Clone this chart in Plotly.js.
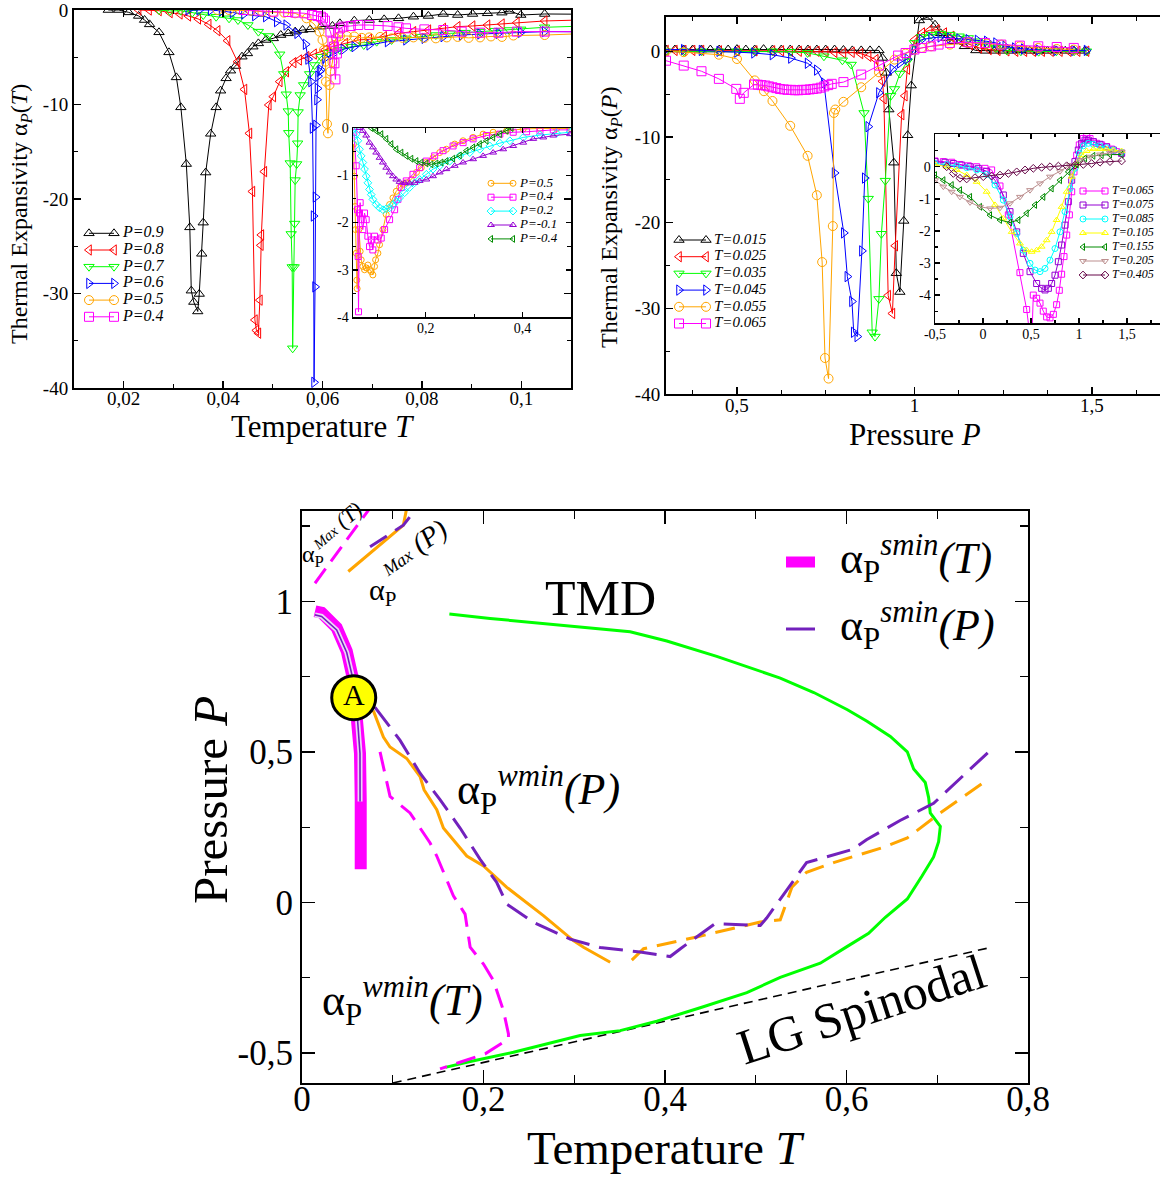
<!DOCTYPE html>
<html>
<head>
<meta charset="utf-8">
<script src="https://cdn.plot.ly/plotly-3.0.1.min.js"></script>
<style>
html,body{margin:0;padding:0;background:#fff;}
#chart{width:1160px;height:1178px;}
</style>
</head>
<body>
<div id="chart"></div>
<script>
// ---------- Panel (a): thermal expansivity vs temperature at fixed P ----------
const p1_T09 = [0.0169,0.0190,0.0210,0.0230,0.0242,0.0252,0.0271,0.0291,0.0306,0.0315,0.0326,0.0333,0.0336,0.0341,0.0349,0.0352,0.0357,0.0360,0.0365,0.0375,0.0386,0.0395,0.0406,0.0415,0.0425,0.0438,0.0449,0.0460,0.0471,0.0486,0.0501,0.0516,0.0531,0.0545,0.0560,0.0575,0.0597,0.0620,0.0635,0.0664,0.0694,0.0724,0.0753,0.0783,0.0813,0.0843,0.0872,0.0902,0.0932,0.0961,0.0976,0.0999,0.1047,0.1125];
const p1_A09 = [0,0,-0.25,-0.63,-1.06,-1.52,-2.36,-4.48,-7.13,-10.3,-16.3,-23.0,-29.7,-30.9,-31.9,-30.05,-25.8,-22.5,-17.2,-13.1,-10.3,-8.54,-7.23,-6.42,-5.93,-4.94,-4.59,-3.88,-3.53,-3.17,-3.0,-2.65,-2.47,-2.29,-2.12,-2.05,-1.76,-1.69,-1.41,-1.13,-1.06,-0.99,-0.88,-0.71,-0.63,-0.42,-0.53,-0.42,-0.35,-0.28,-0.1,-0.53,-0.42,-0.45];
const p1_T08 = [0.0230,0.0251,0.0271,0.0293,0.0313,0.0330,0.0350,0.0371,0.0389,0.0409,0.0429,0.0443,0.0453,0.0459,0.0464,0.0467,0.0471,0.0474,0.0476,0.0477,0.0483,0.0492,0.0501,0.0514,0.0527,0.0542,0.0553,0.0568,0.0583,0.0605,0.0620,0.0646,0.0672,0.0694,0.0724,0.0753,0.0783,0.0813,0.0843,0.0872,0.0902,0.0932,0.0961,0.0991,0.1047,0.1125];
const p1_A08 = [0,0,-0.07,-0.28,-0.42,-0.63,-0.95,-1.52,-2.19,-3.25,-5.47,-8.4,-13.05,-19.2,-32.8,-33.9,-34.2,-30.7,-24.9,-23.8,-17.1,-10.05,-9.17,-7.58,-6.53,-5.57,-5.29,-4.94,-4.66,-4.23,-3.88,-3.53,-3.17,-3.1,-2.82,-2.47,-2.29,-2.12,-1.94,-1.76,-1.69,-1.59,-1.48,-1.34,-1.16,-1.05];
const p1_T07 = [0.0271,0.0293,0.0315,0.0338,0.0360,0.0386,0.0412,0.0430,0.0450,0.0471,0.0491,0.0514,0.0522,0.0527,0.0531,0.0532,0.0535,0.0537,0.0539,0.0540,0.0543,0.0544,0.0545,0.0548,0.0550,0.0551,0.0555,0.0562,0.0574,0.0584,0.0597,0.0612,0.0635,0.0657,0.0683,0.0709,0.0739,0.0768,0.0798,0.0828,0.0857,0.0887,0.0917,0.0947,0.0976,0.0999,0.1047,0.1125];
const p1_A07 = [0,-0.1,-0.07,-0.28,-0.53,-0.71,-0.88,-1.06,-1.59,-2.29,-2.75,-4.69,-6.77,-8.92,-10.7,-13.0,-16.2,-23.7,-27.2,-35.8,-27.2,-22.6,-18.0,-16.3,-14.1,-10.8,-9.0,-7.94,-6.77,-5.82,-4.94,-4.51,-4.23,-3.88,-3.7,-3.35,-3.17,-3.0,-2.82,-2.65,-2.47,-2.4,-2.29,-2.19,-2.12,-2.05,-1.83,-1.7];
const p1_T06 = [0.0330,0.0352,0.0375,0.0397,0.0419,0.0442,0.0464,0.0486,0.0508,0.0527,0.0549,0.0566,0.0571,0.0577,0.0580,0.0582,0.0583,0.0585,0.0586,0.0587,0.0589,0.0590,0.0591,0.0594,0.0597,0.0605,0.0620,0.0642,0.0664,0.0694,0.0731,0.0768,0.0805,0.0843,0.0880,0.0917,0.0954,0.0999,0.1047,0.1125];
const p1_A06 = [0,0,0,-0.1,-0.28,-0.42,-0.6,-0.71,-1.23,-1.59,-2.47,-3.63,-5.2,-7.58,-12.5,-21.8,-39.4,-29.3,-19.8,-12.2,-9.5,-8.3,-7.0,-6.5,-6.35,-5.1,-4.7,-4.16,-3.88,-3.7,-3.35,-3.17,-3.0,-2.82,-2.65,-2.54,-2.47,-2.36,-2.29,-2.3];
const p1_T05 = [0.0389,0.0412,0.0434,0.0456,0.0479,0.0501,0.0523,0.0545,0.0568,0.0583,0.0594,0.0600,0.0603,0.0606,0.0607,0.0609,0.0611,0.0614,0.0616,0.0620,0.0623,0.0627,0.0635,0.0649,0.0664,0.0679,0.0694,0.0716,0.0739,0.0761,0.0783,0.0805,0.0828,0.0850,0.0872,0.0894,0.0917,0.0939,0.0961,0.0984,0.1047,0.1125];
const p1_A05 = [0,0,0,-0.07,-0.18,-0.25,-0.28,-0.35,-0.88,-1.48,-2.29,-3.17,-4.23,-5.47,-7.58,-12.06,-13.05,-7.94,-6.5,-5.5,-3.7,-3.0,-2.75,-2.75,-2.8,-2.95,-2.9,-2.85,-3.0,-2.95,-2.9,-2.95,-3.0,-2.9,-2.85,-2.95,-2.9,-2.8,-2.85,-2.7,-2.65,-2.5];
const p1_T04 = [0.0442,0.0471,0.0501,0.0531,0.0545,0.0564,0.0579,0.0590,0.0597,0.0601,0.0605,0.0616,0.0620,0.0623,0.0624,0.0626,0.0629,0.0631,0.0635,0.0642,0.0657,0.0672,0.0694,0.0731,0.0753,0.0768,0.0805,0.0843,0.0880,0.0917,0.0954,0.0991,0.1047,0.1125];
const p1_A04 = [0,-0.07,-0.18,-0.21,-0.28,-0.35,-0.53,-0.63,-0.71,-0.88,-1.13,-2.29,-3.35,-3.88,-5.64,-7.34,-4.6,-2.47,-1.94,-1.76,-1.69,-1.59,-1.59,-1.69,-1.83,-1.94,-2.05,-2.12,-2.29,-2.4,-2.4,-2.29,-2.29,-2.3];
const p1_names = ['P=0.9','P=0.8','P=0.7','P=0.6','P=0.5','P=0.4'];

// Inset of panel (a): wider temperature range
const i1_T05 = [0.0510,0.0531,0.0545,0.0552,0.0566,0.0579,0.0586,0.0621,0.0648,0.0669,0.0703,0.0738,0.0772,0.0807,0.0841,0.0876,0.0910,0.0945,0.0966,0.1014,0.1048,0.1117,0.1186,0.1255,0.1324,0.1393,0.1462,0.1531,0.1600,0.1703,0.1810,0.1910,0.2014,0.2152,0.2290,0.2428,0.2600,0.2772,0.2979,0.3186,0.3393,0.3669,0.4014,0.4359,0.4703,0.4980];
const i1_A05 = [-0.34,-1.02,-1.66,-2.15,-2.65,-3.22,-3.40,-2.15,-2.61,-2.79,-2.93,-3.00,-2.96,-2.90,-3.00,-3.04,-3.11,-2.93,-2.79,-2.65,-2.47,-2.15,-1.83,-1.62,-1.48,-1.34,-1.26,-1.19,-1.16,-1.09,-0.94,-0.84,-0.73,-0.63,-0.52,-0.45,-0.34,-0.27,-0.20,-0.13,-0.09,-0.06,-0.02,-0.01,-0.01,-0.01];
const i1_T04 = [0.0517,0.0566,0.0593,0.0607,0.0614,0.0634,0.0648,0.0669,0.0703,0.0738,0.0772,0.0807,0.0841,0.0876,0.0910,0.0945,0.1014,0.1083,0.1152,0.1255,0.1359,0.1428,0.1497,0.1600,0.1738,0.1876,0.2014,0.2186,0.2359,0.2566,0.2772,0.2979,0.3255,0.3531,0.3807,0.4083,0.4359,0.4634,0.4980];
const i1_A04 = [-0.09,-0.8,-1.73,-2.72,-3.89,-1.8,-1.58,-1.94,-2.15,-1.8,-1.94,-2.29,-2.51,-2.37,-2.58,-2.29,-2.37,-2.33,-2.15,-1.94,-1.73,-1.51,-1.26,-1.12,-0.98,-0.84,-0.7,-0.59,-0.48,-0.38,-0.31,-0.23,-0.16,-0.13,-0.09,-0.08,-0.06,-0.04,-0.04];
const i1_T02 = [0.0531,0.0566,0.0600,0.0634,0.0669,0.0703,0.0738,0.0772,0.0807,0.0841,0.0876,0.0910,0.0979,0.1048,0.1117,0.1186,0.1255,0.1324,0.1393,0.1462,0.1566,0.1669,0.1772,0.1876,0.2014,0.2152,0.2290,0.2497,0.2703,0.2910,0.3117,0.3324,0.3531,0.3738,0.4014,0.4359,0.4703,0.4980];
const i1_A02 = [0,-0.13,-0.27,-0.45,-0.59,-0.73,-0.87,-1.02,-1.16,-1.3,-1.41,-1.51,-1.62,-1.69,-1.73,-1.71,-1.69,-1.62,-1.55,-1.48,-1.37,-1.26,-1.16,-1.09,-0.98,-0.87,-0.8,-0.7,-0.59,-0.52,-0.45,-0.38,-0.32,-0.27,-0.2,-0.15,-0.11,-0.09];
const i1_Tm01 = [0.0634,0.0703,0.0772,0.0841,0.0910,0.0979,0.1048,0.1117,0.1186,0.1255,0.1324,0.1393,0.1462,0.1566,0.1669,0.1772,0.1876,0.2014,0.2152,0.2290,0.2428,0.2600,0.2772,0.2979,0.3186,0.3393,0.3600,0.3807,0.4014,0.4221,0.4428,0.4634,0.4980];
const i1_Am01 = [0,-0.06,-0.16,-0.31,-0.41,-0.52,-0.63,-0.73,-0.84,-0.94,-1.02,-1.09,-1.14,-1.16,-1.17,-1.16,-1.12,-1.09,-1.02,-0.94,-0.87,-0.8,-0.73,-0.66,-0.59,-0.52,-0.45,-0.38,-0.31,-0.23,-0.2,-0.16,-0.13];
const i1_Tm04 = [0.0876,0.0979,0.1083,0.1186,0.1290,0.1393,0.1497,0.1600,0.1703,0.1807,0.1910,0.2014,0.2117,0.2221,0.2324,0.2428,0.2566,0.2703,0.2841,0.2979,0.3117,0.3255,0.3393,0.3531,0.3669,0.3772];
const i1_Am04 = [0,-0.06,-0.13,-0.23,-0.34,-0.45,-0.52,-0.59,-0.65,-0.7,-0.73,-0.75,-0.77,-0.75,-0.73,-0.7,-0.65,-0.58,-0.48,-0.41,-0.34,-0.27,-0.2,-0.13,-0.06,0];
const i1_names = ['P=0.5','P=0.4','P=0.2','P=-0.1','P=-0.4'];

// ---------- Panel (b): thermal expansivity vs pressure at fixed T ----------
const p2_P015 = [0.300,0.325,0.350,0.375,0.400,0.425,0.450,0.475,0.500,0.525,0.550,0.575,0.600,0.625,0.650,0.675,0.700,0.725,0.750,0.775,0.800,0.825,0.850,0.875,0.900,0.910,0.921,0.928,0.942,0.949,0.959,0.970,0.981,0.991,1.014,1.037,1.058,1.074,1.089,1.110,1.141,1.173,1.200,1.225,1.250,1.275,1.300,1.325,1.350,1.375,1.400,1.425,1.450,1.480];
const p2_A015 = [0.2,0.2,0.2,0.2,0.2,0.2,0.2,0.2,0.25,0.2,0.2,0.25,0.2,0.2,0.2,0.2,0.2,0.2,0.2,0.2,0.15,0.1,0.1,0.1,0.1,-0.78,-2.52,-6.8,-13.0,-25.9,-28.1,-19.8,-9.8,-4.0,3.6,4.0,3.1,2.1,1.55,1.17,0.58,0.1,0.05,0.05,0.05,0.05,0.1,0.05,0.05,0.05,0.1,0.05,0.05,0.05];
const p2_P025 = [0.300,0.325,0.350,0.375,0.400,0.450,0.500,0.550,0.600,0.625,0.650,0.675,0.700,0.725,0.750,0.775,0.800,0.824,0.848,0.871,0.891,0.910,0.914,0.926,0.938,0.946,0.964,0.973,0.980,1.001,1.022,1.043,1.063,1.084,1.105,1.131,1.157,1.183,1.210,1.235,1.260,1.285,1.310,1.335,1.360,1.385,1.410,1.435,1.460,1.485];
const p2_A025 = [0.1,0.1,0.1,0.1,0.1,0.05,0.05,0.05,0.05,0.05,0,0,0,0,-0.05,-0.12,-0.2,-0.12,-0.27,-0.58,-0.97,-3.5,-5.55,-28.5,-30.6,-22.7,-7.4,-5.2,-2.1,1.36,2.14,2.45,2.52,2.14,1.75,1.17,0.78,0.39,0.2,0.1,0.05,0,0,0,0,0,0,0,0,0];
const p2_P035 = [0.300,0.350,0.400,0.450,0.500,0.550,0.600,0.650,0.699,0.745,0.797,0.822,0.858,0.870,0.881,0.889,0.900,0.907,0.918,0.933,0.944,0.959,0.980,1.000,1.020,1.047,1.073,1.100,1.126,1.152,1.178,1.204,1.230,1.260,1.300,1.350,1.400,1.450,1.485];
const p2_A035 = [0,0,0,0,0,0,0,-0.05,-0.19,-0.58,-1.05,-1.55,-7.2,-17.2,-32.8,-33.3,-28.9,-21.3,-15.1,-5.2,-4.4,-2.6,-1.17,0.97,1.67,1.94,2.06,1.94,1.75,1.55,1.17,0.78,0.39,0.1,0,-0.05,0,0,0];
const p2_P045 = [0.300,0.350,0.400,0.450,0.500,0.548,0.600,0.652,0.699,0.725,0.745,0.775,0.801,0.811,0.824,0.829,0.839,0.852,0.860,0.870,0.900,0.938,0.959,0.980,1.000,1.020,1.047,1.073,1.100,1.126,1.152,1.178,1.204,1.230,1.256,1.283,1.308,1.350,1.400,1.450,1.485];
const p2_A045 = [0.2,0.2,0.1,0,-0.1,-0.2,-0.4,-0.8,-1.4,-2.2,-3.7,-14.2,-21.2,-26.3,-29.2,-32.8,-33.3,-23.3,-14.8,-8.8,-4.85,-2.1,-1.36,-0.9,0.2,1.36,1.55,1.67,1.55,1.44,1.36,1.28,1.17,0.97,0.58,0.39,0.27,0.15,0.1,0.1,0.1];
const p2_P055 = [0.300,0.350,0.449,0.500,0.550,0.576,0.600,0.650,0.699,0.725,0.740,0.748,0.758,0.770,0.773,0.777,0.800,0.850,0.900,0.944,0.975,1.000,1.020,1.047,1.100,1.152,1.204,1.245,1.297,1.349,1.401,1.449];
const p2_A055 = [0,-0.1,-0.4,-0.9,-3.4,-4.66,-5.8,-8.7,-12.2,-16.8,-24.6,-35.8,-38.2,-20.4,-7.2,-6.8,-5.9,-4.2,-2.45,-0.97,-0.27,0.2,0.39,0.58,0.78,0.97,0.89,0.78,0.58,0.39,0.27,0.2];
const p2_P065 = [0.300,0.350,0.400,0.449,0.498,0.508,0.519,0.548,0.559,0.569,0.580,0.590,0.600,0.611,0.621,0.632,0.642,0.653,0.663,0.673,0.684,0.694,0.705,0.715,0.725,0.736,0.746,0.757,0.767,0.800,0.850,0.900,0.954,0.975,1.000,1.020,1.047,1.068,1.100,1.152,1.199,1.245,1.297,1.349,1.401,1.449];
const p2_A065 = [-1.1,-1.67,-2.33,-3.22,-4.39,-5.55,-4.85,-3.88,-3.9,-3.95,-4.0,-4.1,-4.2,-4.3,-4.4,-4.45,-4.5,-4.5,-4.55,-4.55,-4.5,-4.5,-4.45,-4.4,-4.35,-4.25,-4.1,-3.95,-3.8,-3.6,-2.72,-1.67,-0.5,-0.2,0.2,0.39,0.58,0.78,0.97,1.05,0.97,0.78,0.66,0.58,0.5,0.39];
const p2_names = ['T=0.015','T=0.025','T=0.035','T=0.045','T=0.055','T=0.065'];

// Inset of panel (b): wider pressure range
const i2_P065 = [-0.5,-0.413,-0.326,-0.24,-0.153,-0.066,0.021,0.09,0.177,0.264,0.385,0.455,0.49,0.51,0.524,0.559,0.594,0.628,0.663,0.698,0.733,0.767,0.795,0.819,0.844,0.872,0.9,0.924,0.948,0.976,1.003,1.045,1.08,1.115,1.149,1.184,1.236,1.288,1.34,1.392,1.444];
const i2_A065 = [0.18,0.16,0.14,0.07,0.03,0,-0.05,-0.1,-0.6,-1.5,-3.3,-4.45,-5.3,-5.3,-4.0,-4.1,-4.25,-4.5,-4.68,-4.71,-4.6,-4.3,-3.85,-3.35,-2.8,-2.13,-1.5,-0.78,-0.16,0.36,0.68,0.88,0.94,0.88,0.78,0.73,0.68,0.62,0.55,0.47,0.42];
const i2_P075 = [-0.5,-0.396,-0.309,-0.222,-0.135,-0.049,0.038,0.125,0.212,0.281,0.351,0.42,0.49,0.559,0.611,0.646,0.681,0.715,0.75,0.785,0.819,0.854,0.889,0.924,0.958,0.993,1.028,1.063,1.097,1.149,1.219,1.288,1.358,1.444];
const i2_A075 = [0.16,0.14,0.1,0.05,0,-0.05,-0.14,-0.42,-0.88,-1.4,-2.03,-2.7,-3.27,-3.64,-3.79,-3.84,-3.79,-3.64,-3.38,-2.96,-2.44,-1.82,-1.09,-0.42,0.16,0.52,0.73,0.83,0.83,0.78,0.7,0.62,0.52,0.42];
const i2_P085 = [-0.5,-0.378,-0.274,-0.17,-0.066,0.038,0.125,0.212,0.281,0.351,0.42,0.49,0.542,0.594,0.646,0.698,0.75,0.802,0.854,0.906,0.958,1.003,1.045,1.097,1.149,1.219,1.288,1.358,1.444];
const i2_A085 = [0.1,0.07,0.03,-0.03,-0.1,-0.24,-0.57,-1.04,-1.56,-2.08,-2.6,-3.01,-3.22,-3.27,-3.17,-2.91,-2.55,-2.03,-1.4,-0.68,-0.05,0.42,0.65,0.73,0.7,0.65,0.59,0.52,0.45];
const i2_P105 = [-0.5,-0.378,-0.274,-0.17,-0.066,0.038,0.125,0.212,0.299,0.385,0.455,0.507,0.559,0.611,0.663,0.715,0.767,0.819,0.872,0.924,0.976,1.028,1.08,1.149,1.219,1.288,1.358,1.444];
const i2_A105 = [0.07,0,-0.1,-0.26,-0.47,-0.78,-1.19,-1.61,-2.03,-2.39,-2.6,-2.65,-2.6,-2.49,-2.29,-2.03,-1.66,-1.25,-0.78,-0.31,0.1,0.36,0.49,0.55,0.55,0.55,0.52,0.49];
const i2_P155 = [-0.5,-0.413,-0.326,-0.24,-0.135,-0.031,0.073,0.177,0.281,0.368,0.455,0.542,0.628,0.715,0.802,0.889,0.976,1.063,1.149,1.236,1.323,1.444];
const i2_A155 = [-0.26,-0.42,-0.57,-0.73,-0.94,-1.25,-1.51,-1.66,-1.74,-1.66,-1.45,-1.19,-0.94,-0.68,-0.42,-0.16,0.07,0.26,0.34,0.36,0.38,0.38];
const i2_P205 = [-0.5,-0.413,-0.326,-0.24,-0.135,-0.031,0.073,0.177,0.281,0.385,0.49,0.594,0.698,0.802,0.906,1.01,1.115,1.219,1.323,1.444];
const i2_A205 = [-0.42,-0.62,-0.78,-0.94,-1.11,-1.25,-1.3,-1.28,-1.14,-0.94,-0.73,-0.52,-0.31,-0.14,0.05,0.21,0.31,0.38,0.44,0.47];
const i2_P405 = [-0.378,-0.309,-0.24,-0.17,-0.083,0.003,0.09,0.177,0.264,0.351,0.438,0.524,0.611,0.698,0.785,0.872,0.958,1.045,1.132,1.219,1.323,1.444];
const i2_A405 = [0,-0.21,-0.36,-0.38,-0.34,-0.31,-0.29,-0.26,-0.21,-0.16,-0.1,-0.05,-0.02,0,0.02,0.03,0.05,0.07,0.1,0.14,0.16,0.18];
const i2_names = ['T=0.065','T=0.075','T=0.085','T=0.105','T=0.155','T=0.205','T=0.405'];

// ---------- Panel (c): phase diagram in the T-P plane ----------
const tmd_T = [0.158,0.1816,0.233,0.3065,0.3506,0.391,0.4388,0.4902,0.527,0.5711,0.6005,0.6244,0.6428,0.667,0.6832,0.696,0.7015,0.7034,0.6923,0.6905,0.6868,0.674,0.667,0.6483,0.6226,0.601,0.564,0.527,0.457,0.402,0.3616,0.2698,0.2073,0.1624];
const tmd_P = [-0.548,-0.531,-0.498,-0.4425,-0.426,-0.395,-0.35,-0.3,-0.249,-0.202,-0.147,-0.103,-0.0495,0.0114,0.0876,0.151,0.2018,0.2526,0.297,0.348,0.398,0.443,0.5,0.551,0.6015,0.64,0.697,0.745,0.817,0.868,0.899,0.925,0.943,0.958];
const spin_T = [0.100,0.200,0.300,0.400,0.500,0.600,0.700,0.757];
const spin_P = [-0.600,-0.532,-0.463,-0.395,-0.327,-0.258,-0.190,-0.151];
const sminT_T = [0.0143,0.0216,0.0382,0.0493,0.0566,0.0610,0.0639,0.0647,0.0647];
const sminT_P = [0.967,0.962,0.912,0.835,0.736,0.615,0.495,0.341,0.110];
const sminP_T = [0.0143,0.0216,0.0382,0.0493,0.0566,0.0610,0.0639,0.0640];
const sminP_P = [0.955,0.950,0.905,0.830,0.736,0.615,0.495,0.335];
const wminPo_T = [0.0786,0.0897,0.0970,0.1154,0.1301,0.1345,0.1485,0.1558,0.1816,0.2000,0.2257,0.2660,0.2990,0.3102,0.3396];
const wminPo_P = [0.637,0.549,0.516,0.478,0.418,0.374,0.308,0.247,0.154,0.121,0.050,-0.044,-0.127,-0.149,-0.199];
const wminPd_T = [0.3634,0.3764,0.4350,0.5050,0.5270,0.5398,0.5560,0.5858,0.6409,0.6670,0.7000,0.7510];
const wminPd_P = [-0.192,-0.154,-0.115,-0.065,-0.058,0.050,0.100,0.132,0.183,0.214,0.290,0.398];
const wminPv_T = [0.0805,0.1081,0.1301,0.1521,0.1742,0.1963,0.2146,0.2257,0.2550,0.2955,0.3285,0.3726,0.4057,0.4170,0.4550,0.5050,0.5120,0.5560,0.6070,0.6220,0.6590,0.6960,0.7567];
const wminPv_P = [0.648,0.538,0.429,0.341,0.247,0.143,0.066,-0.006,-0.066,-0.122,-0.150,-0.165,-0.180,-0.154,-0.071,-0.077,-0.052,0.132,0.176,0.208,0.272,0.329,0.500];
const wminT_T = [0.086,0.097,0.119,0.141,0.1485,0.1668,0.1797,0.1853,0.200,0.211,0.222,0.2275,0.2275,0.2018,0.174,0.1521];
const wminT_P = [0.500,0.352,0.297,0.198,0.154,0.022,-0.039,-0.149,-0.205,-0.260,-0.360,-0.437,-0.454,-0.503,-0.531,-0.553];
const maxPo_T = [0.051,0.1117,0.1154];
const maxPo_P = [1.099,1.253,1.310];
const maxPv_T = [0.075,0.1117,0.1264];
const maxPv_P = [1.181,1.253,1.310];
const maxT_T = [0.0143,0.075];
const maxT_P = [1.060,1.310];
const pointA_T = [0.057];
const pointA_P = [0.680];
const pointA_label = ['A'];

// ---------- tick positions and labels ----------
const p1x_ticks = [0.02,0.04,0.06,0.08,0.1], p1x_text = ['0,02','0,04','0,06','0,08','0,1'], p1x_minor = [0.01,0.03,0.05,0.07,0.09];
const p1y_ticks = [0,-10,-20,-30,-40], p1y_text = ['0','-10','-20','-30','-40'], p1y_minor = [-5,-15,-25,-35];
const i1x_ticks = [0.2,0.4], i1x_text = ['0,2','0,4'], i1x_minor = [0.1,0.3,0.5];
const i1y_ticks = [0,-1,-2,-3,-4], i1y_text = ['0','-1','-2','-3','-4'], i1y_minor = [-0.5,-1.5,-2.5,-3.5];
const p2x_ticks = [0.5,1,1.5], p2x_text = ['0,5','1','1,5'], p2x_minor = [0.375,0.625,0.75,0.875,1.125,1.25,1.375,1.625];
const p2y_ticks = [0,-10,-20,-30,-40], p2y_text = ['0','-10','-20','-30','-40'], p2y_minor = [-5,-15,-25,-35];
const i2x_ticks = [-0.5,0,0.5,1,1.5], i2x_text = ['-0,5','0','0,5','1','1,5'], i2x_minor = [-0.25,0.25,0.75,1.25,1.75];
const i2y_ticks = [0,-1,-2,-3,-4], i2y_text = ['0','-1','-2','-3','-4'], i2y_minor = [0.5,-0.5,-1.5,-2.5,-3.5,-4.5];
const p3x_ticks = [0,0.2,0.4,0.6,0.8], p3x_text = ['0','0,2','0,4','0,6','0,8'], p3x_minor = [0.1,0.3,0.5,0.7];
const p3y_ticks = [-0.5,0,0.5,1], p3y_text = ['-0,5','0','0,5','1'], p3y_minor = [-0.25,0.25,0.75,1.25];

// ---------- helpers ----------
const W = 1160, H = 1178;
const SERIF = 'Liberation Serif, Times New Roman, serif';
const hx = (a, b) => [a / W, b / W];
const hy = (top, bottom) => [1 - bottom / H, 1 - top / H];

const COL = {
  black:'#000000', red:'#ff0000', green:'#00ff00', blue:'#0000ff', orange:'#ffa500',
  magenta:'#ff00ff', cyan:'#00ffff', violet:'#9400d3', green4:'#008b00', yellow:'#ffff00',
  brown:'#bc8f8f', maroon:'#670748', indigo:'#7221bc'
};

function sym(x, y, xa, ya, color, symbol, size) {
  return {x, y, xaxis:xa, yaxis:ya, type:'scatter', mode:'lines+markers',
    line:{color, width:1}, marker:{symbol, size, color, line:{color, width:1}},
    hoverinfo:'skip', showlegend:false};
}
function curve(x, y, color, width, dash) {
  return {x, y, xaxis:'x5', yaxis:'y5', type:'scatter', mode:'lines',
    line:{color, width, dash:dash || 'solid'}, hoverinfo:'skip', showlegend:false};
}

const p1Styles = [
  [p1_T09, p1_A09, COL.black, 'triangle-up-open'],
  [p1_T08, p1_A08, COL.red, 'triangle-left-open'],
  [p1_T07, p1_A07, COL.green, 'triangle-down-open'],
  [p1_T06, p1_A06, COL.blue, 'triangle-right-open'],
  [p1_T05, p1_A05, COL.orange, 'circle-open'],
  [p1_T04, p1_A04, COL.magenta, 'square-open']
];
const i1Styles = [
  [i1_T05, i1_A05, COL.orange, 'circle-open'],
  [i1_T04, i1_A04, COL.magenta, 'square-open'],
  [i1_T02, i1_A02, COL.cyan, 'diamond-open'],
  [i1_Tm01, i1_Am01, COL.violet, 'triangle-up-open'],
  [i1_Tm04, i1_Am04, COL.green4, 'triangle-left-open']
];
const p2Styles = [
  [p2_P015, p2_A015, COL.black, 'triangle-up-open'],
  [p2_P025, p2_A025, COL.red, 'triangle-left-open'],
  [p2_P035, p2_A035, COL.green, 'triangle-down-open'],
  [p2_P045, p2_A045, COL.blue, 'triangle-right-open'],
  [p2_P055, p2_A055, COL.orange, 'circle-open'],
  [p2_P065, p2_A065, COL.magenta, 'square-open']
];
const i2Styles = [
  [i2_P065, i2_A065, COL.magenta, 'square-open'],
  [i2_P075, i2_A075, COL.violet, 'square-open'],
  [i2_P085, i2_A085, COL.cyan, 'circle-open'],
  [i2_P105, i2_A105, COL.yellow, 'triangle-up-open'],
  [i2_P155, i2_A155, COL.green4, 'triangle-left-open'],
  [i2_P205, i2_A205, COL.brown, 'triangle-down-open'],
  [i2_P405, i2_A405, COL.maroon, 'diamond-open']
];

const traces = [];
p1Styles.forEach(s => traces.push(sym(s[0], s[1], 'x', 'y', s[2], s[3], 9)));
i1Styles.forEach(s => traces.push(sym(s[0], s[1], 'x2', 'y2', s[2], s[3], 6)));
p2Styles.forEach(s => traces.push(sym(s[0], s[1], 'x3', 'y3', s[2], s[3], 9)));
i2Styles.forEach(s => traces.push(sym(s[0], s[1], 'x4', 'y4', s[2], s[3], 6)));

// phase diagram curves
traces.push(curve(spin_T, spin_P, COL.black, 1.6, '9px,6px'));
traces.push(curve(tmd_T, tmd_P, COL.green, 3));
traces.push(curve(wminPo_T, wminPo_P, COL.orange, 3));
traces.push(curve(wminPd_T, wminPd_P, COL.orange, 3, '20px,10px'));
traces.push(curve(wminT_T, wminT_P, COL.magenta, 3, '20px,10px'));
traces.push(curve(wminPv_T, wminPv_P, COL.indigo, 3, '24px,10px'));
traces.push(curve(maxT_T, maxT_P, COL.magenta, 3, '18px,9px'));
traces.push(curve(maxPo_T, maxPo_P, COL.orange, 3));
traces.push(curve(maxPv_T, maxPv_P, COL.indigo, 3, '20px,10px'));
traces.push(curve(sminT_T, sminT_P, COL.magenta, 12));
traces.push(curve(sminP_T, sminP_P, '#ecd6f7', 5));
traces.push(curve(sminP_T, sminP_P, COL.indigo, 1.6));
traces.push({x:pointA_T, y:pointA_P, xaxis:'x5', yaxis:'y5', type:'scatter', mode:'markers+text',
  text:pointA_label, textposition:'middle center', textfont:{family:SERIF, size:30, color:'#000'},
  marker:{symbol:'circle', size:44, color:COL.yellow, line:{color:'#000', width:3}},
  cliponaxis:false, hoverinfo:'skip', showlegend:false});

// ---------- legends, laid out on a full-page pixel overlay (x6/y6) ----------
function legendBlock(styles, names, gx0, gx1, tx, ry0, dy, fs, msize) {
  styles.forEach((s, k) => {
    const yy = ry0 + k * dy;
    traces.push({x:[gx0, gx1], y:[yy, yy], xaxis:'x6', yaxis:'y6', type:'scatter', mode:'lines+markers',
      line:{color:s[2], width:1}, marker:{symbol:s[3], size:msize, color:s[2], line:{color:s[2], width:1}},
      cliponaxis:false, hoverinfo:'skip', showlegend:false});
    traces.push({x:[tx], y:[yy], xaxis:'x6', yaxis:'y6', type:'scatter', mode:'text',
      text:['<i>' + names[k] + '</i>'], textposition:'middle right',
      textfont:{family:SERIF, size:fs, color:'#000'}, cliponaxis:false, hoverinfo:'skip', showlegend:false});
  });
}
legendBlock(p1Styles, p1_names, 89, 114, 123, 233.3, 16.7, 16, 9);
legendBlock(i1Styles, i1_names, 491, 513, 520, 183.3, 13.9, 13, 6);
legendBlock(p2Styles, p2_names, 679, 706, 714, 240, 16.7, 15, 9);
legendBlock(i2Styles, i2_names, 1083, 1105, 1112, 191, 14, 12, 6);

const p3LegendNames = ['α<sub>P</sub><sup><i>smin</i></sup><i>(T)</i>', 'α<sub>P</sub><sup><i>smin</i></sup><i>(P)</i>'];
const p3LegendStyles = [[COL.magenta, 11], [COL.indigo, 3]];
p3LegendStyles.forEach((s, k) => {
  const yy = 562 + k * 67;
  traces.push({x:[786, 815], y:[yy, yy], xaxis:'x6', yaxis:'y6', type:'scatter', mode:'lines',
    line:{color:s[0], width:s[1]}, cliponaxis:false, hoverinfo:'skip', showlegend:false});
  traces.push({x:[840], y:[yy], xaxis:'x6', yaxis:'y6', type:'scatter', mode:'text',
    text:[p3LegendNames[k]], textposition:'middle right',
    textfont:{family:SERIF, size:44, color:'#000'}, cliponaxis:false, hoverinfo:'skip', showlegend:false});
});

// ---------- axes ----------
function ax(fs, extra) {
  return Object.assign({
    showline:true, linecolor:'#000', linewidth:2, mirror:'ticks',
    ticks:'inside', tickcolor:'#000', tickwidth:1.5, ticklen:7,
    showgrid:false, zeroline:false, tickmode:'array', ticklabeloverflow:'allow',
    tickfont:{family:SERIF, size:fs, color:'#000'}, fixedrange:true
  }, extra);
}
function minor(vals, len) {
  return {tickmode:'array', tickvals:vals, ticks:'inside', ticklen:len, tickcolor:'#000', tickwidth:1.2};
}

const layout = {
  width:W, height:H, margin:{l:0, r:0, t:0, b:0},
  paper_bgcolor:'#ffffff', plot_bgcolor:'rgba(0,0,0,0)',
  showlegend:false, font:{family:SERIF, color:'#000'},
  xaxis: ax(19, {domain:hx(74, 571), range:[0.01, 0.11], anchor:'y', ticklabelstandoff:-8,
    tickvals:p1x_ticks, ticktext:p1x_text, minor:minor(p1x_minor, 4)}),
  yaxis: ax(19, {domain:hy(10, 388), range:[-40, 0], anchor:'x',
    tickvals:p1y_ticks, ticktext:p1y_text, minor:minor(p1y_minor, 4)}),
  xaxis2: ax(14, {domain:hx(353, 571), range:[0.05, 0.5], anchor:'y2', linewidth:1.5, ticklen:5, ticklabelstandoff:-2,
    tickvals:i1x_ticks, ticktext:i1x_text, minor:minor(i1x_minor, 3)}),
  yaxis2: ax(14, {domain:hy(128, 317), range:[-4, 0], anchor:'x2', linewidth:1.5, ticklen:5,
    tickvals:i1y_ticks, ticktext:i1y_text, minor:minor(i1y_minor, 3)}),
  xaxis3: ax(19, {domain:hx(666, 1160), range:[0.3, 1.692], anchor:'y3', ticklabelstandoff:-7,
    tickvals:p2x_ticks, ticktext:p2x_text, minor:minor(p2x_minor, 4)}),
  yaxis3: ax(19, {domain:hy(17, 394), range:[-40, 4], anchor:'x3', mirror:false,
    tickvals:p2y_ticks, ticktext:p2y_text, minor:minor(p2y_minor, 4)}),
  xaxis4: ax(14, {domain:hx(935, 1160), range:[-0.5, 1.844], anchor:'y4', linewidth:1.5, ticklen:5, ticklabelstandoff:-2,
    tickvals:i2x_ticks, ticktext:i2x_text, minor:minor(i2x_minor, 3)}),
  yaxis4: ax(14, {domain:hy(134, 323), range:[-4.87, 1.02], anchor:'x4', linewidth:1.5, ticklen:5, mirror:false,
    tickvals:i2y_ticks, ticktext:i2y_text, minor:minor(i2y_minor, 3)}),
  xaxis5: ax(35, {domain:hx(302, 1028), range:[0, 0.8], anchor:'y5', ticklen:13, ticklabelstandoff:-16,
    tickvals:p3x_ticks, ticktext:p3x_text, minor:minor(p3x_minor, 8)}),
  yaxis5: ax(35, {domain:hy(511, 1083), range:[-0.6, 1.3], anchor:'x5', ticklen:13,
    tickvals:p3y_ticks, ticktext:p3y_text, minor:minor(p3y_minor, 8)}),
  xaxis6: {domain:[0, 1], range:[0, W], anchor:'y6', visible:false, fixedrange:true},
  yaxis6: {domain:[0, 1], range:[H, 0], anchor:'x6', visible:false, fixedrange:true},
  annotations: []
};

function pageText(text, px, py, size, angle) {
  return {xref:'paper', yref:'paper', x:px / W, y:1 - py / H, text, showarrow:false,
    xanchor:'center', yanchor:'middle', textangle:angle || 0, borderpad:0,
    font:{family:SERIF, size, color:'#000'}};
}
function plotText(text, t, p, size, angle, xanchor) {
  return {xref:'x5', yref:'y5', x:t, y:p, text, showarrow:false,
    xanchor:xanchor || 'center', yanchor:'middle', textangle:angle || 0,
    font:{family:SERIF, size, color:'#000'}};
}

layout.annotations.push(
  pageText('Temperature <i>T</i>', 323, 427, 31),
  pageText('Thermal Expansivity α<sub><i>P</i></sub>(<i>T</i>)', 21, 214, 24, -90),
  pageText('Pressure <i>P</i>', 915, 434, 31),
  pageText('Thermal Expansivity α<sub><i>P</i></sub>(<i>P</i>)', 611, 218, 24, -90),
  pageText('Temperature <i>T</i>', 666, 1148, 47),
  pageText('Pressure <i>P</i>', 210, 800, 49, -90),
  plotText('TMD', 0.3286, 1.01, 50),
  plotText('LG Spinodal', 0.617, -0.355, 50, -18),
  plotText('α<sub>P</sub><sup><i>wmin</i></sup><i>(P)</i>', 0.1687, 0.372, 44, 0, 'left'),
  plotText('α<sub>P</sub><sup><i>wmin</i></sup><i>(T)</i>', 0.0198, -0.326, 44, 0, 'left'),
  plotText('α<sub>P</sub>', 0.0882, 1.03, 30),
  plotText('<span style="font-size:18px"><i>Max</i></span> <i>(P)</i>', 0.1224, 1.179, 28, -35),
  plotText('α<sub>P</sub>', 0.0121, 1.15, 24),
  plotText('<span style="font-size:15px"><i>Max</i></span> <i>(T)</i>', 0.0375, 1.252, 22, -40)
);

Plotly.newPlot('chart', traces, layout, {displayModeBar:false, staticPlot:true});
</script>
</body>
</html>
